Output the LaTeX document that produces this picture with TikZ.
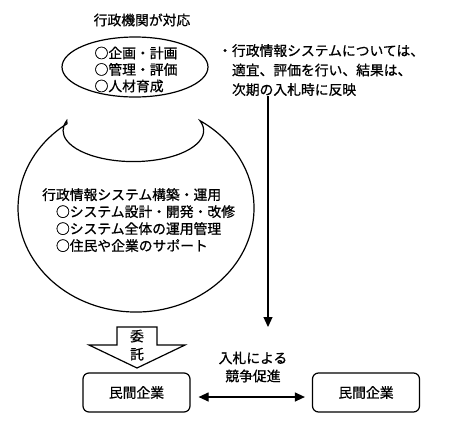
\documentclass[tikz,border=0pt]{standalone}
\usepackage{fontspec}
\setmainfont{Noto Sans CJK JP}[FakeBold=0.8]
\usetikzlibrary{arrows.meta, positioning, calc, shapes.geometric}

\begin{document}
\begin{tikzpicture}[
  x=1pt, y=1pt,
  jp/.style={font=\fontsize{13.8}{17}\selectfont, inner sep=0pt, align=left},
  kigyo/.style={
    draw, rounded corners=6pt, minimum width=107pt, minimum height=39pt,
    font=\fontsize{13.8}{17}\selectfont, line width=1.2pt
  },
  conn/.style={-{Triangle[length=10pt, width=9pt]}, line width=1.2pt},
  dconn/.style={{Triangle[length=10pt, width=9pt]}-{Triangle[length=10pt, width=9pt]}, line width=1.2pt},
]

% ---------------------------------------------------------------
% Geometry: 1 unit = 1 pixel of the 450x421 layout, y runs downward as -y
% ---------------------------------------------------------------
\fill[white] (0,0) rectangle (450,-421);
\useasboundingbox (0,0) rectangle (450,-421);

% ===== Government side (top ellipse) =====
\node[jp] (title) at (142,-20) {行政機関が対応};
\node[draw, ellipse, minimum width=146pt, minimum height=60pt, line width=1.2pt]
  (kikan) at (135,-67) {};
\node[jp, font=\fontsize{13.8}{16.5}\selectfont] (kikantxt) at (136,-69.5)
  {○企画・計画\\○管理・評価\\○人材育成};

% ===== System construction / operation (cup shape) =====
\draw[line width=1.2pt] (67,-123.7)
  arc[start angle=125.8, end angle=417.2, x radius=118, y radius=104]
  arc[start angle=18.7, end angle=-198.7, x radius=70.3, y radius=31] -- cycle;
\node[jp, anchor=north west] (unyo) at (42,-188)
  {行政情報システム構築・運用\\
   \hspace*{1em}○システム設計・開発・改修\\
   \hspace*{1em}○システム全体の運用管理\\
   \hspace*{1em}○住民や企業のサポート};

% ===== Note (right) and arrow down to bidding =====
\node[jp, font=\fontsize{13.8}{19.5}\selectfont, anchor=north west] (note) at (218,-44)
  {・行政情報システムについては、\\
   \hspace*{1em}適宜、評価を行い、結果は、\\
   \hspace*{1em}次期の入札時に反映};
\coordinate (arrend) at (268,-327);
\draw[conn] (note.south -| arrend) -- (arrend);

% ===== Outsourcing (hollow arrow) =====
\coordinate (itaku) at (137,-327);
\draw[line width=1.2pt, fill=white] ($(itaku)+(-20,0)$) -- ++(40,0) -- ++(0,-18)
  -- ++(28,0) -- ($(itaku)+(0,-41)$) -- ($(itaku)+(-48,-18)$) -- ++(28,0) -- cycle;
\node[jp, align=center, font=\fontsize{13.8}{18}\selectfont] (itakutxt) at (137,-345) {委\\託};

% ===== Private companies =====
\node[kigyo] (kigyo1) at (136.5,-392.5) {民間企業};
\node[kigyo] (kigyo2) at (366,-392.5) {民間企業};
\draw[dconn] ($(kigyo1.east)+(8,-4.5)$) -- ($(kigyo2.west)+(-7,-4.5)$);
\node[jp, align=center, font=\fontsize{13.8}{18}\selectfont] (kyoso) at (253,-367)
  {入札による\\競争促進};

\end{tikzpicture}
\end{document}
